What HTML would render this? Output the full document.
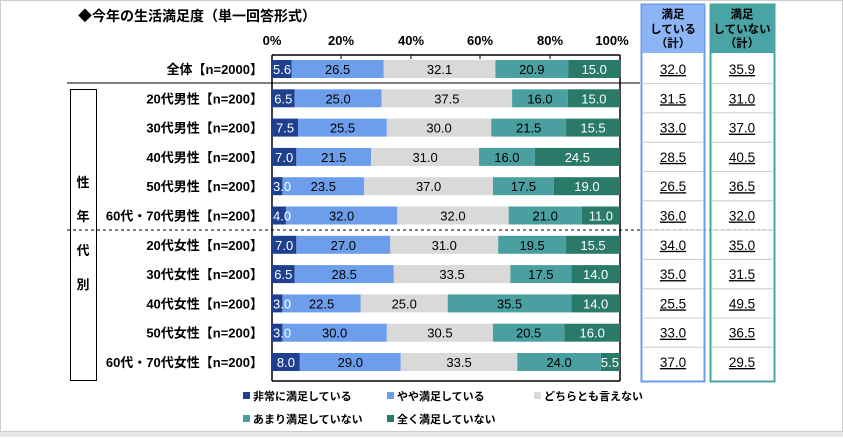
<!DOCTYPE html>
<html><head><meta charset="utf-8"><style>
body{margin:0;width:843px;height:437px;background:#fff;overflow:hidden;font-family:"Liberation Sans","Noto Sans CJK JP",sans-serif}
</style></head><body>
<svg width="843" height="437" xmlns="http://www.w3.org/2000/svg" font-family="Liberation Sans, Noto Sans CJK JP, sans-serif">
<rect x="0.5" y="0.5" width="842" height="431" fill="#fff" stroke="#ccc"/>
<rect x="0" y="432" width="843" height="5" fill="#e6e6e6"/>
<text x="78" y="21" font-size="14" font-weight="bold" fill="#000">◆今年の生活満足度（単一回答形式）</text>
<g font-size="13" font-weight="bold" text-anchor="middle">
<text x="272" y="45">0%</text><text x="341" y="45">20%</text><text x="411" y="45">40%</text><text x="480" y="45">60%</text><text x="550" y="45">80%</text><text x="612" y="45">100%</text>
</g>
<g stroke="#000" stroke-width="1.5" fill="none">
<line x1="272" y1="55" x2="620" y2="55"/><line x1="272" y1="55" x2="272" y2="381"/><line x1="620" y1="55" x2="620" y2="381"/><line x1="272" y1="381" x2="620" y2="381"/>
</g>
<g stroke="#000" stroke-width="1"><line x1="341" y1="55" x2="341" y2="59"/><line x1="411" y1="55" x2="411" y2="59"/><line x1="480" y1="55" x2="480" y2="59"/><line x1="550" y1="55" x2="550" y2="59"/></g>
<line x1="67" y1="83" x2="640" y2="83" stroke="#000" stroke-width="1"/>
<line x1="67" y1="230" x2="775" y2="230" stroke="#000" stroke-dasharray="3,3" stroke-width="1"/>
<rect x="70.5" y="89.5" width="26" height="291" fill="none" stroke="#000"/>
<g font-size="13" font-weight="bold" text-anchor="middle"><text x="83" y="187">性</text><text x="83" y="221">年</text><text x="83" y="255">代</text><text x="83" y="289">別</text></g>
<g id="bars"></g>
<g id="btx" font-size="13" text-anchor="middle"></g>
<rect x="641.5" y="4.5" width="63" height="377" fill="none" stroke="#6d9eeb" stroke-width="2"/>
<rect x="642" y="5" width="62" height="48" fill="#8db4f5"/>
<rect x="710.5" y="4.5" width="64" height="377" fill="none" stroke="#4aa3a5" stroke-width="2"/>
<rect x="711" y="5" width="63" height="48" fill="#4aa3a5"/>
<g font-size="11.5" font-weight="bold" text-anchor="middle">
<text x="673" y="18">満足</text><text x="673" y="33">している</text><text x="673" y="47">（計）</text>
<text x="742" y="18">満足</text><text x="742" y="33">していない</text><text x="742" y="47">（計）</text>
</g>
<g font-size="11" font-weight="bold"><rect x="243" y="392" width="7" height="7" fill="#1f3f8f"/><text x="253" y="400">非常に満足している</text>
<rect x="387" y="392" width="7" height="7" fill="#6d9eeb"/><text x="397" y="400">やや満足している</text>
<rect x="534" y="392" width="7" height="7" fill="#d9d9d9"/><text x="544" y="400">どちらとも言えない</text>
<rect x="243" y="415" width="7" height="7" fill="#4a9fa0"/><text x="253" y="423">あまり満足していない</text>
<rect x="387" y="415" width="7" height="7" fill="#2a7a6a"/><text x="397" y="423">全く満足していない</text></g>
<g id="labels" font-size="13" font-weight="bold" text-anchor="end"></g>
<g id="tot" font-size="13.5" text-anchor="middle" text-decoration="underline"></g>
</svg>
<script>
var rows=[["全体【n=2000】",[5.6,26.5,32.1,20.9,15.0],"32.0","35.9"],
["20代男性【n=200】",[6.5,25.0,37.5,16.0,15.0],"31.5","31.0"],
["30代男性【n=200】",[7.5,25.5,30.0,21.5,15.5],"33.0","37.0"],
["40代男性【n=200】",[7.0,21.5,31.0,16.0,24.5],"28.5","40.5"],
["50代男性【n=200】",[3.0,23.5,37.0,17.5,19.0],"26.5","36.5"],
["60代・70代男性【n=200】",[4.0,32.0,32.0,21.0,11.0],"36.0","32.0"],
["20代女性【n=200】",[7.0,27.0,31.0,19.5,15.5],"34.0","35.0"],
["30代女性【n=200】",[6.5,28.5,33.5,17.5,14.0],"35.0","31.5"],
["40代女性【n=200】",[3.0,22.5,25.0,35.5,14.0],"25.5","49.5"],
["50代女性【n=200】",[3.0,30.0,30.5,20.5,16.0],"33.0","36.5"],
["60代・70代女性【n=200】",[8.0,29.0,33.5,24.0,5.5],"37.0","29.5"]];
var cols=["#1f3f8f","#6d9eeb","#d9d9d9","#4a9fa0","#2a7a6a"],tc=["#fff","#000","#000","#000","#fff"];
var ns="http://www.w3.org/2000/svg",b=document.getElementById("bars"),bt=document.getElementById("btx"),l=document.getElementById("labels"),t=document.getElementById("tot");
function el(p,n,a,tx){var e=document.createElementNS(ns,n);for(var k in a)e.setAttribute(k,a[k]);if(tx)e.textContent=tx;p.appendChild(e);return e;}
rows.forEach(function(r,i){var cy=69+i*29.3,x=272,W=348;
r[1].forEach(function(v,j){var w=v/100*W;el(b,"rect",{x:x,y:cy-9,width:w,height:18,fill:cols[j]});
var tx=v.toFixed(1);var small=(j==0&&w<20);
el(bt,"text",{x:small?x+1:(j==4&&w<22?x+w-1:x+w/2),y:cy+5,fill:tc[j],"text-anchor":small?"start":(j==4&&w<22?"end":"middle")},tx);x+=w;});
el(l,"text",{x:263,y:cy+5},r[0]);
el(t,"text",{x:673,y:cy+5},r[2]);el(t,"text",{x:742,y:cy+5},r[3]);
if(i<10){var ly=cy+14.6;el(t,"line",{x1:642,y1:ly,x2:704,y2:ly,stroke:"#ccc"});el(t,"line",{x1:711,y1:ly,x2:774,y2:ly,stroke:"#ccc"});}
});
</script>
</body></html>
